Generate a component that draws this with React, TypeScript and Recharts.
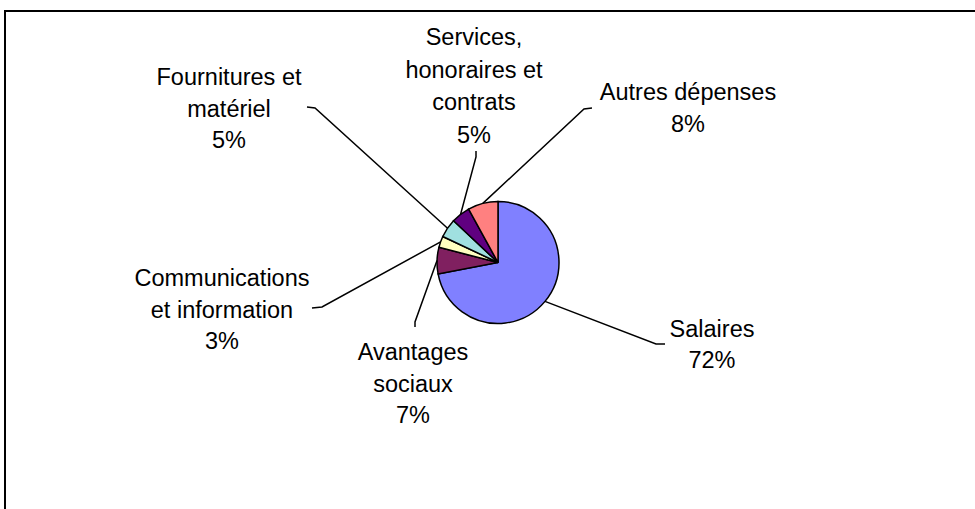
import React from 'react';
import { PieChart, Pie, Cell } from 'recharts';

// Dépenses par catégorie (%)
const categories = [
  'Salaires',
  'Avantages sociaux',
  'Communications et information',
  'Fournitures et matériel',
  'Services, honoraires et contrats',
  'Autres dépenses',
];
const values = [72, 7, 3, 5, 5, 8];
const colors = ['#8080FF', '#802060', '#FFFFC0', '#A0E0E0', '#600080', '#FF8080'];

const data = categories.map((name, i) => ({ name, value: values[i] }));
const total = values.reduce((a, b) => a + b, 0);

// label placement (text lines, baselines, leader line elbow)
const labelLayout: Record<string, { x: number; y: number[]; lines: string[]; path: number[][] }> = {
  'Salaires': { x: 712, y: [337, 368], lines: ['Salaires'], path: [[656, 344], [665, 344]] },
  'Avantages sociaux': { x: 413, y: [360, 392, 423], lines: ['Avantages', 'sociaux'], path: [[415, 322], [415, 327]] },
  'Communications et information': { x: 222, y: [286, 318, 349], lines: ['Communications', 'et information'], path: [[322, 307], [312, 308]] },
  'Fournitures et matériel': { x: 229, y: [85, 117, 148], lines: ['Fournitures et', 'matériel'], path: [[315, 108], [307, 107]] },
  'Services, honoraires et contrats': { x: 474, y: [45, 78, 110, 143], lines: ['Services,', 'honoraires et', 'contrats'], path: [[476, 157], [476, 151]] },
  'Autres dépenses': { x: 688, y: [100, 132], lines: ['Autres dépenses'], path: [[584, 109], [592, 108]] },
};

const RAD = Math.PI / 180;
const font = { fontFamily: '"Liberation Sans", Arial, sans-serif', fontSize: 23.5 };

function renderLabel(props: any) {
  const { cx, cy, midAngle, outerRadius, index } = props;
  const name = categories[index];
  const lay = labelLayout[name];
  const sx = cx + outerRadius * Math.cos(-midAngle * RAD);
  const sy = cy + outerRadius * Math.sin(-midAngle * RAD);
  const pts = [[sx, sy], ...lay.path].map((p) => p.join(',')).join(' ');
  const pct = Math.round((values[index] / total) * 100) + '%';
  const lines = [...lay.lines, pct];
  return (
    <g key={name}>
      <polyline points={pts} fill="none" stroke="#000" strokeWidth={1.5} />
      {lines.map((t, i) => (
        <text key={i} x={lay.x} y={lay.y[i]} textAnchor="middle" fill="#000" style={font}>
          {t}
        </text>
      ))}
    </g>
  );
}

export default function App() {
  return (
    <div style={{ position: 'fixed', left: 0, top: 0, width: 975, height: 509, overflow: 'hidden', background: '#fff' }}>
      {/* chart frame: only left and top edges are inside the view */}
      <div style={{ position: 'absolute', left: 4, top: 10, width: 971, height: 499, borderLeft: '2px solid #000', borderTop: '2px solid #000', boxSizing: 'border-box' }} />
      <div style={{ position: 'absolute', left: 0, top: 0 }}>
        <PieChart width={975} height={509} margin={{ top: 0, right: 0, bottom: 0, left: 0 }}>
          <Pie
            data={data}
            dataKey="value"
            nameKey="name"
            cx={498}
            cy={262.5}
            outerRadius={61}
            startAngle={90}
            endAngle={-270}
            stroke="#000"
            strokeWidth={1.5}
            label={renderLabel}
            labelLine={false}
            isAnimationActive={false}
          >
            {data.map((d, i) => (
              <Cell key={d.name} fill={colors[i]} />
            ))}
          </Pie>
        </PieChart>
      </div>
    </div>
  );
}
